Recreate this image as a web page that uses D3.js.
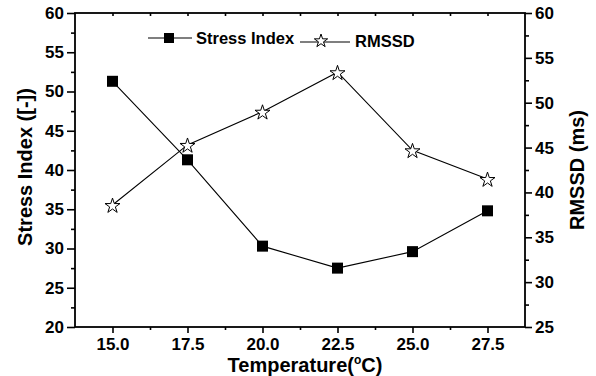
<!DOCTYPE html>
<html>
<head>
<meta charset="utf-8">
<script src="https://cdn.jsdelivr.net/npm/d3@7/dist/d3.min.js"></script>
<style>
  html, body { margin: 0; padding: 0; background: #fff; }
  svg { display: block; font-family: "Liberation Sans", Arial, Helvetica, sans-serif; font-weight: bold; }
</style>
</head>
<body>
<svg id="chart" width="596" height="376"></svg>
<script>
// Temperature steps and the two measured series
const temperatures = [15.0, 17.5, 20.0, 22.5, 25.0, 27.5];
const stressIndex = [51.3, 41.3, 30.3, 27.5, 29.6, 34.8];
const rmssd = [38.6, 45.3, 49.0, 53.4, 44.7, 41.5];

// Tick labels
const xTicks = [15.0, 17.5, 20.0, 22.5, 25.0, 27.5];
const leftTicks = [20, 25, 30, 35, 40, 45, 50, 55, 60];
const rightTicks = [25, 30, 35, 40, 45, 50, 55, 60];

const svg = d3.select("#chart");
const m = { left: 75, right: 71, top: 13, bottom: 49 };
const W = 596, H = 376;
const x0 = m.left, x1 = W - m.right, y0 = H - m.bottom, y1 = m.top;

const x = d3.scaleLinear().domain([13.75, 28.75]).range([x0, x1]);
const yL = d3.scaleLinear().domain([20, 60]).range([y0, y1]);
const yR = d3.scaleLinear().domain([25, 60]).range([y0, y1]);

// Minor ticks halfway between the labelled ones
const minorX = xTicks.slice(0, -1).map(v => v + 1.25);
const minorL = leftTicks.slice(0, -1).map(v => v + 2.5);
const minorR = rightTicks.slice(0, -1).map(v => v + 2.5);

function styleAxis(g) {
  g.select(".domain").remove();
  g.selectAll("line").attr("stroke", "#000").attr("stroke-width", 1.6);
  g.selectAll("text").attr("fill", "#000").style("font-size", "17px").style("font-weight", "bold");
}

// Bottom axis
svg.append("g").attr("transform", `translate(0,${y0})`)
  .call(d3.axisBottom(x).tickValues(xTicks).tickSize(6).tickPadding(5).tickFormat(d3.format(".1f")))
  .call(styleAxis);
svg.append("g").attr("transform", `translate(0,${y0})`)
  .call(d3.axisBottom(x).tickValues(minorX).tickSize(3).tickFormat(""))
  .call(styleAxis);

// Top axis (inner ticks only)
svg.append("g").attr("transform", `translate(0,${y1})`)
  .call(d3.axisBottom(x).tickValues(xTicks.concat(minorX)).tickSize(3).tickFormat(""))
  .call(styleAxis);

// Left axis
svg.append("g").attr("transform", `translate(${x0},0)`)
  .call(d3.axisLeft(yL).tickValues(leftTicks).tickSize(8).tickPadding(3))
  .call(styleAxis);
svg.append("g").attr("transform", `translate(${x0},0)`)
  .call(d3.axisLeft(yL).tickValues(minorL).tickSize(4).tickFormat(""))
  .call(styleAxis);

// Right axis
svg.append("g").attr("transform", `translate(${x1},0)`)
  .call(d3.axisRight(yR).tickValues(rightTicks).tickSize(7).tickPadding(3))
  .call(styleAxis);
svg.append("g").attr("transform", `translate(${x1},0)`)
  .call(d3.axisRight(yR).tickValues(minorR).tickSize(4).tickFormat(""))
  .call(styleAxis);

// Frame
svg.append("rect").attr("x", x0).attr("y", y1).attr("width", x1 - x0).attr("height", y0 - y1)
  .attr("fill", "none").attr("stroke", "#000").attr("stroke-width", 1.8);

// Series lines
const lineL = d3.line().x((d, i) => x(temperatures[i])).y(d => yL(d));
const lineR = d3.line().x((d, i) => x(temperatures[i])).y(d => yR(d));
svg.append("path").datum(stressIndex).attr("d", lineL).attr("fill", "none").attr("stroke", "#000").attr("stroke-width", 1.1);
svg.append("path").datum(rmssd).attr("d", lineR).attr("fill", "none").attr("stroke", "#000").attr("stroke-width", 1.1);

const star = d3.symbol().type(d3.symbolStar);

// Markers
svg.append("g").selectAll("rect").data(stressIndex).join("rect")
  .attr("x", (d, i) => x(temperatures[i]) - 5.5)
  .attr("y", d => yL(d) - 5.5)
  .attr("width", 11).attr("height", 11).attr("fill", "#000");
svg.append("g").selectAll("path").data(rmssd).join("path")
  .attr("d", star.size(70)())
  .attr("transform", (d, i) => `translate(${x(temperatures[i])},${yR(d) + 1})`)
  .attr("fill", "#fff").attr("stroke", "#000").attr("stroke-width", 1);

// Legend
const lg = svg.append("g");
lg.append("line").attr("x1", 148).attr("x2", 192).attr("y1", 38).attr("y2", 38).attr("stroke", "#000").attr("stroke-width", 1.1);
lg.append("rect").attr("x", 164).attr("y", 33).attr("width", 10).attr("height", 10).attr("fill", "#000");
lg.append("text").attr("x", 196).attr("y", 44).style("font-size", "16.5px").text("Stress Index");
lg.append("line").attr("x1", 300).attr("x2", 350).attr("y1", 42).attr("y2", 42).attr("stroke", "#000").attr("stroke-width", 1.1);
lg.append("path").attr("d", star.size(55)()).attr("transform", "translate(321,41)")
  .attr("fill", "#fff").attr("stroke", "#000").attr("stroke-width", 1);
lg.append("text").attr("x", 355).attr("y", 47).style("font-size", "16.5px").text("RMSSD");

// Axis titles
svg.append("text").attr("transform", "translate(32,167) rotate(-90)").attr("text-anchor", "middle")
  .style("font-size", "20px").text("Stress Index ([-])");
svg.append("text").attr("transform", "translate(584,170) rotate(-90)").attr("text-anchor", "middle")
  .style("font-size", "20px").text("RMSSD (ms)");
const xt = svg.append("text").attr("x", 305).attr("y", 372).attr("text-anchor", "middle").style("font-size", "20px");
xt.append("tspan").text("Temperature(");
xt.append("tspan").attr("dy", -8).style("font-size", "12px").text("o");
xt.append("tspan").attr("dy", 8).text("C)");
</script>
</body>
</html>
